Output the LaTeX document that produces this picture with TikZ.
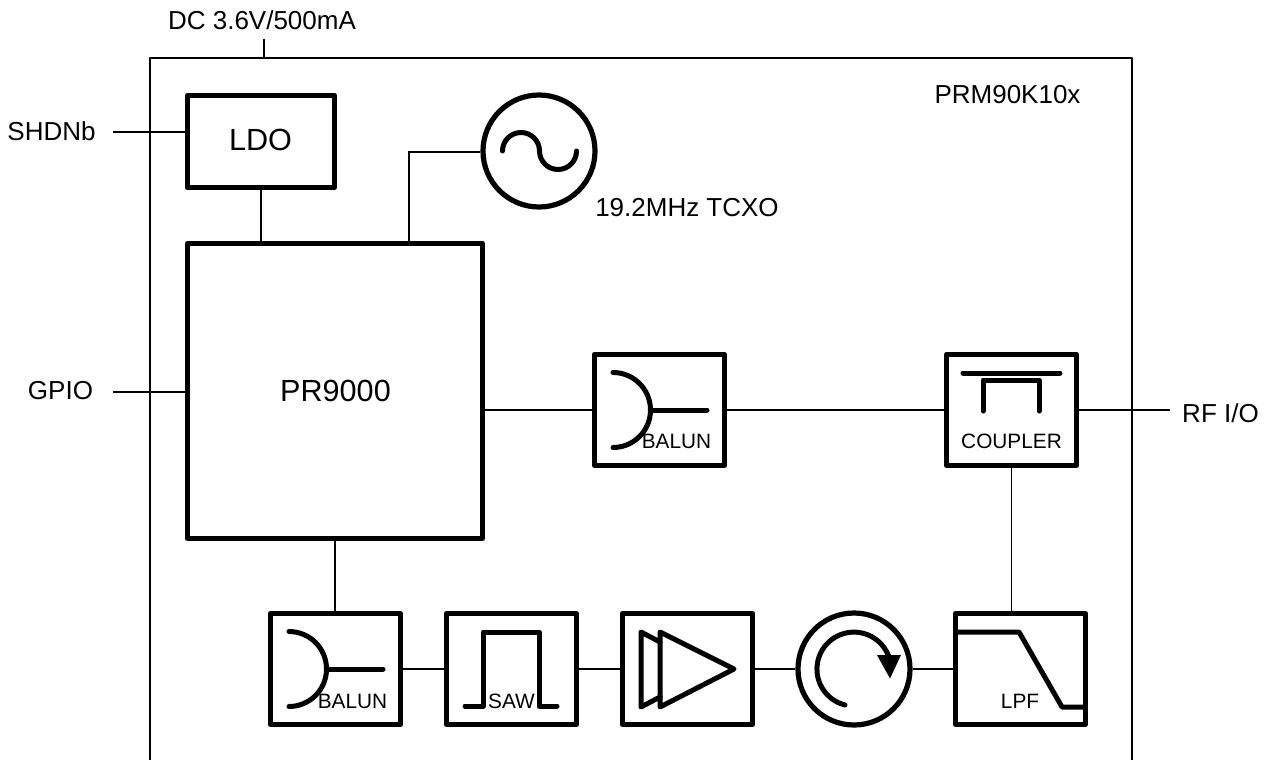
\documentclass[tikz,border=0pt]{standalone}
\usepackage{fontspec}
\setmainfont{Liberation Sans}
\tikzset{
  x=1pt,y=1pt,
  block/.style={draw=black,line width=5.2pt,line join=round,inner sep=0pt,fill=none},
  round block/.style={block,circle,minimum size=112pt},
  wire/.style={draw=black,line width=1.4pt},
  symb/.style={draw=black,line width=5pt,line cap=round,line join=round},
  big/.style={font=\fontsize{30.6}{34}\selectfont,inner sep=0pt},
  lab/.style={font=\fontsize{26}{30}\selectfont,inner sep=0pt,anchor=base},
  small/.style={font=\fontsize{20.8}{24}\selectfont,inner sep=0pt,anchor=base},
}
\newcommand{\balunsym}[2]{%
  \draw[symb] (#1,#2+37.5) arc[start angle=90,end angle=-90,radius=37.5pt];
  \draw[symb] (#1+37.5,#2) -- (#1+94,#2);
}
\begin{document}
\begin{tikzpicture}
\useasboundingbox (0,0) rectangle (1268,-760);
% frame
\coordinate (fbl) at (150,-760);
\coordinate (ftl) at (150,-58);
\coordinate (ftr) at (1132,-58);
\coordinate (fbr) at (1132,-760);
\coordinate (ftop) at (264,-58);
\coordinate (dcend) at (264,-39);
\draw[wire,line join=round] (fbl) -- (ftl) -- (ftr) -- (fbr);
% blocks
\node[block,minimum width=147pt,minimum height=92pt] (ldo) at (261,-141.5) {};
\node[block,minimum width=295pt,minimum height=295pt] (pr) at (335,-391) {};
\node[block,minimum width=130pt,minimum height=111pt] (balun1) at (659.5,-410) {};
\node[block,minimum width=130pt,minimum height=111pt] (coupler) at (1011.5,-410) {};
\node[block,minimum width=130pt,minimum height=111pt] (balun2) at (335.5,-669) {};
\node[block,minimum width=130pt,minimum height=111pt] (saw) at (511.5,-669) {};
\node[block,minimum width=130pt,minimum height=111pt] (pa) at (687.5,-669) {};
\node[round block] (circ) at (854,-669) {};
\node[block,minimum width=130pt,minimum height=111pt] (lpf) at (1020.5,-669) {};
\node[round block] (osc) at (539,-151) {};
% text
\node[big,anchor=base] (tldo) at (260.5,-150.5) {LDO};
\node[big,anchor=base] (tpr) at (335.5,-401) {PR9000};
\node[lab] (tdc) at (262,-29.5) {DC 3.6V/500mA};
\node[lab] (tprm) at (1007.5,-103) {PRM90K10x};
\node[lab] (tshdn) at (51.5,-140) {SHDNb};
\node[lab] (tgpio) at (60.5,-399.5) {GPIO};
\node[lab] (trf) at (1220.5,-422) {RF I/O};
\node[lab] (ttcxo) at (687,-216) {19.2MHz TCXO};
\node[small] (tb1) at (676.5,-448) {BALUN};
\node[small] (tcp) at (1011.5,-448) {COUPLER};
\node[small] (tb2) at (352.5,-708) {BALUN};
\node[small] (tsaw) at (511.5,-708) {SAW};
\node[small] (tlpf) at (1020,-708) {LPF};
% connectors
\coordinate (shdnend) at (113,-132);
\coordinate (gpioend) at (113,-392);
\coordinate (rfend) at (1170,-410);
\coordinate (oscbend) at (409,-152);
\draw[wire] (dcend) -- (ftop);
\draw[wire] (shdnend) -- (shdnend -| ldo.west);
\draw[wire] (gpioend) -- (gpioend -| pr.west);
\draw[wire] (ldo.south) -- (ldo.south |- pr.north);
\draw[wire] (oscbend -| osc.west) -- (oscbend) -- (oscbend |- pr.north);
\draw[wire] (balun1.west -| pr.east) -- (balun1.west);
\draw[wire] (balun1.east) -- (coupler.west);
\draw[wire] (coupler.east) -- (rfend);
\draw[wire] (coupler.south) -- (coupler.south |- lpf.north);
\draw[wire] (pr.south) -- (pr.south |- balun2.north);
\draw[wire] (balun2.east) -- (saw.west);
\draw[wire] (saw.east) -- (pa.west);
\draw[wire] (pa.east) -- (circ.west);
\draw[wire] (circ.east) -- (lpf.west);
% oscillator symbol
\draw[symb] (502.5,-151) arc[start angle=180,end angle=0,radius=18.5pt]
  arc[start angle=180,end angle=360,radius=18.5pt];
% balun symbols
\balunsym{613}{-410}
\balunsym{289}{-669}
% coupler symbol
\draw[symb] (963,-373) -- (1060,-373);
\draw[symb] (983,-411) -- (983,-380) -- (1039,-380) -- (1039,-411);
% saw symbol
\draw[symb] (465,-706) -- (483,-706) -- (483,-632) -- (539,-632) -- (539,-706) -- (557,-706);
% amplifier symbol
\draw[symb] (660,-632) -- (734,-669) -- (660,-707) -- cycle;
\draw[symb] (660,-642) -- (641,-632) -- (641,-707) -- (660,-697);
% circulator symbol
\draw[symb] (845,-705) arc[start angle=256,end angle=21,radius=37pt];
\fill (877,-655) -- (901,-655) -- (890,-678.5) -- cycle;
% lpf symbol
\draw[symb,line cap=butt] (955.5,-632) -- (1019,-632) -- (1062,-707) -- (1085.5,-707);
\end{tikzpicture}
\end{document}
